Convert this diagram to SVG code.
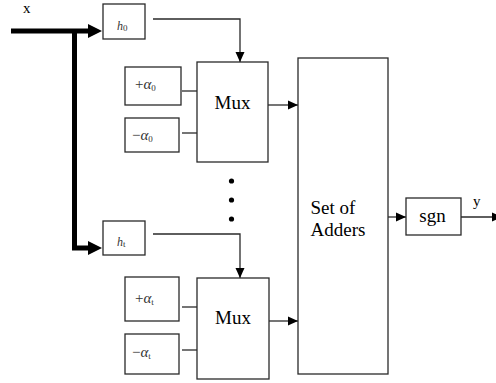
<svg xmlns="http://www.w3.org/2000/svg" width="496" height="383" viewBox="0 0 496 383">
  <style>
    .box { fill: #fff; stroke: #2a2a2a; stroke-width: 1.3; }
    .wire { fill: none; stroke: #2a2a2a; stroke-width: 1.3; }
    .bus { fill: none; stroke: #000; stroke-width: 5; }
    text { font-family: 'Liberation Serif', 'DejaVu Serif', serif; fill: #000; }
    .big { font-size: 19px; }
    .sym { font-size: 15px; font-style: italic; fill: #333; }
    .hsym { font-size: 12px; font-style: italic; fill: #333; }
    .sub { font-size: 9px; font-style: normal; }
  </style>
  <defs>
    <marker id="arr" viewBox="0 0 10 10" refX="10" refY="5" markerWidth="10" markerHeight="10" markerUnits="userSpaceOnUse" orient="auto">
      <path d="M0,0.5 L10,5 L0,9.5 Z" fill="#000"/>
    </marker>
  </defs>

  <!-- input bus and its two branches -->
  <g id="connectors">
    <path class="bus" d="M11,31 H90"/>
    <path d="M88,24 L102,31 L88,38 Z" fill="#000"/>
    <path class="bus" d="M74.5,31 V248 H90"/>
    <path d="M88,241 L102,248 L88,255 Z" fill="#000"/>

    <!-- classifier outputs to multiplexers -->
    <path class="wire" d="M153,19 H240 V62" marker-end="url(#arr)"/>
    <path class="wire" d="M153,234 H240 V278" marker-end="url(#arr)"/>

    <!-- coefficient lines -->
    <path class="wire" d="M182,91 H197"/>
    <path class="wire" d="M182,133 H197"/>
    <path class="wire" d="M182,307 H197"/>
    <path class="wire" d="M182,350 H197"/>

    <!-- multiplexer outputs -->
    <path class="wire" d="M268,105 H298" marker-end="url(#arr)"/>
    <path class="wire" d="M269,321 H298" marker-end="url(#arr)"/>

    <!-- adders to sign, then output -->
    <path class="wire" d="M388,217 H406" marker-end="url(#arr)"/>
    <path class="wire" d="M461,217 H502" marker-end="url(#arr)"/>
  </g>

  <text x="23" y="13" font-size="15">x</text>
  <text x="473" y="206" font-size="15">y</text>

  <g id="h0">
    <rect class="box" x="103" y="4" width="42" height="35"/>
    <text class="hsym" x="117" y="29.5">h<tspan class="sub" font-size="8" dy="1">0</tspan></text>
  </g>

  <g id="plus-alpha0">
    <rect class="box" x="125" y="67" width="56" height="38"/>
    <text class="sym" x="135" y="89"><tspan font-style="normal">+</tspan>α<tspan class="sub" dy="2">0</tspan></text>
  </g>
  <g id="minus-alpha0">
    <rect class="box" x="125" y="118" width="54" height="34"/>
    <text class="sym" x="132" y="140"><tspan font-style="normal">−</tspan>α<tspan class="sub" dy="2">0</tspan></text>
  </g>

  <g id="mux0">
    <rect class="box" x="197" y="62" width="71" height="100"/>
    <text class="big" x="232.5" y="109" text-anchor="middle">Mux</text>
  </g>

  <g id="ellipsis">
    <circle cx="231.5" cy="181" r="2.6" fill="#000"/>
    <circle cx="231.5" cy="200" r="2.6" fill="#000"/>
    <circle cx="231.5" cy="219" r="2.6" fill="#000"/>
  </g>

  <g id="ht">
    <rect class="box" x="103" y="221" width="42" height="34"/>
    <text class="hsym" x="117" y="245.5">h<tspan class="sub" font-size="8" dy="1">t</tspan></text>
  </g>

  <g id="plus-alphat">
    <rect class="box" x="125" y="277" width="54" height="44"/>
    <text class="sym" x="135" y="303"><tspan font-style="normal">+</tspan>α<tspan class="sub" dy="2">t</tspan></text>
  </g>
  <g id="minus-alphat">
    <rect class="box" x="125" y="334" width="54" height="40"/>
    <text class="sym" x="132" y="357"><tspan font-style="normal">−</tspan>α<tspan class="sub" dy="2">t</tspan></text>
  </g>

  <g id="muxt">
    <rect class="box" x="197" y="278" width="72" height="101"/>
    <text class="big" x="233" y="324" text-anchor="middle">Mux</text>
  </g>

  <g id="adders">
    <rect class="box" x="298" y="58" width="90" height="316"/>
    <text class="big" x="310.5" y="214">Set of</text>
    <text class="big" x="310.5" y="236">Adders</text>
  </g>

  <g id="sgn">
    <rect class="box" x="406" y="198" width="55" height="37"/>
    <text class="big" x="432.5" y="222" text-anchor="middle">sgn</text>
  </g>
</svg>
